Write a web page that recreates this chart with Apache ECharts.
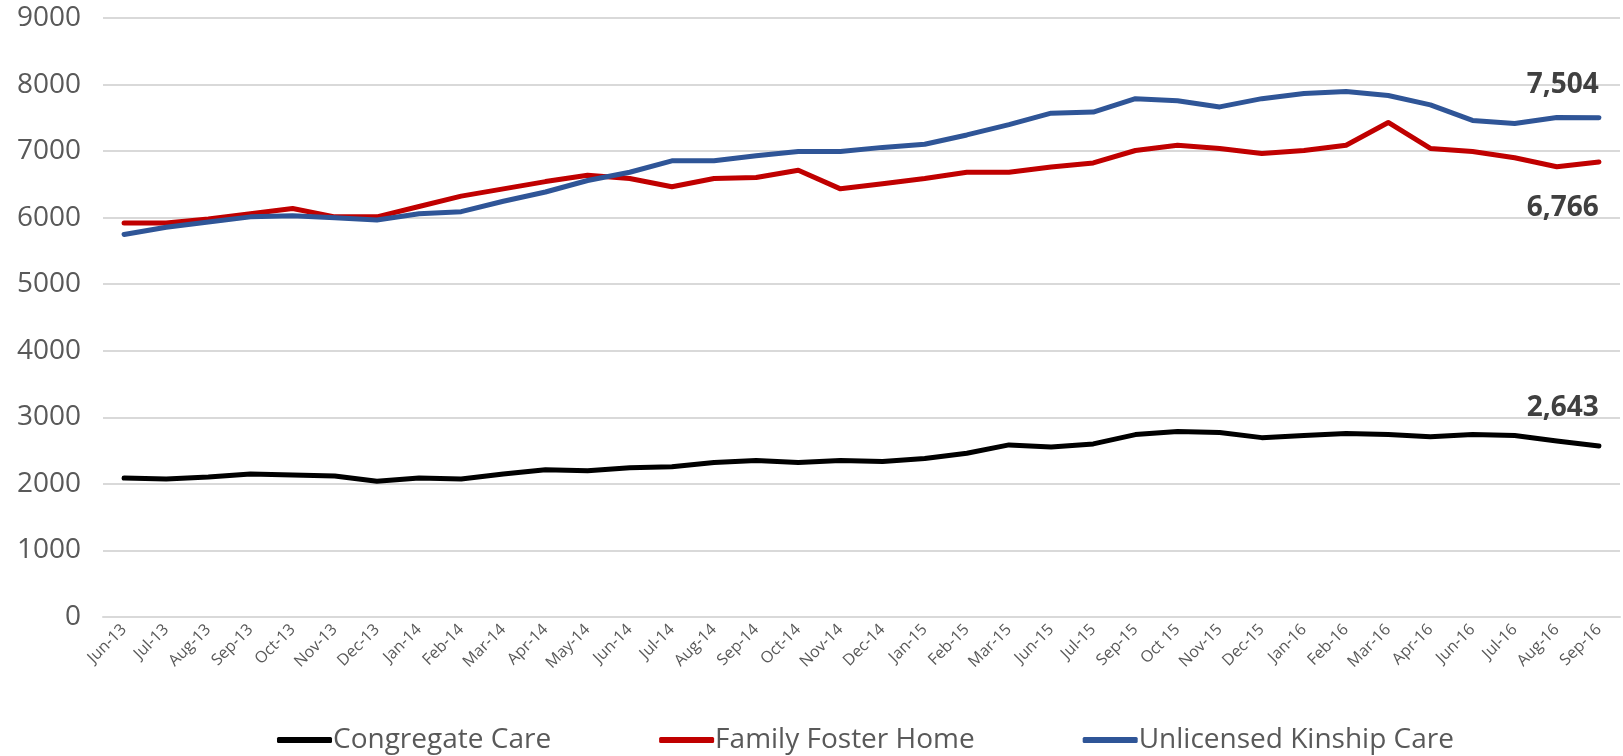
<!DOCTYPE html>
<html>
<head>
<meta charset="utf-8">
<script src="https://cdn.jsdelivr.net/npm/echarts@6/dist/echarts.min.js"></script>
<style>
  html, body { margin: 0; padding: 0; background: #fff; }
  #chart { width: 1623px; height: 756px; }
</style>
</head>
<body>
<div id="chart"></div>
<script>
// months on the x axis
const months = ['Jun-13', 'Jul-13', 'Aug-13', 'Sep-13', 'Oct-13', 'Nov-13', 'Dec-13',
  'Jan-14', 'Feb-14', 'Mar-14', 'Apr-14', 'May-14', 'Jun-14', 'Jul-14', 'Aug-14', 'Sep-14',
  'Oct-14', 'Nov-14', 'Dec-14', 'Jan-15', 'Feb-15', 'Mar-15', 'Jun-15', 'Jul-15', 'Sep-15',
  'Oct 15', 'Nov-15', 'Dec-15', 'Jan-16', 'Feb-16', 'Mar-16', 'Apr-16', 'Jun-16', 'Jul-16',
  'Aug-16', 'Sep-16']

const congregateCare = [2087, 2072, 2103, 2150, 2134, 2118, 2040, 2087, 2072, 2150, 2212, 2196,
  2243, 2259, 2321, 2352, 2321, 2352, 2336, 2383, 2461, 2586, 2555, 2601, 2741, 2788, 2773,
  2695, 2726, 2757, 2741, 2710, 2741, 2726, 2643, 2570]

const familyFosterHome = [5919, 5919, 5981, 6059, 6137, 6012, 6012, 6168, 6324, 6433, 6542, 6636,
  6589, 6464, 6589, 6604, 6713, 6433, 6511, 6589, 6682, 6682, 6760, 6822, 7009, 7087, 7040,
  6963, 7009, 7087, 7430, 7040, 6994, 6900, 6766, 6838]

const unlicensedKinship = [5748, 5857, 5935, 6012, 6028, 5997, 5966, 6059, 6090, 6246, 6386, 6558,
  6682, 6854, 6854, 6931, 6994, 6994, 7056, 7103, 7243, 7399, 7570, 7586, 7788, 7757, 7664,
  7788, 7866, 7897, 7835, 7695, 7461, 7414, 7504, 7500]

// the callout labels sit on this month
const labelMonth = 'Aug-16'

const fontFamily = '"Open Sans", "Noto Sans", sans-serif'

// put a bold value label on one point of a series
const withLabel = (values, position, distance) => values.map((v, i) => {
  if (months[i] !== labelMonth) return v
  return {
    value: v,
    label: {
      show: true,
      position: position,
      distance: distance,
      offset: [6, 0],
      formatter: (p) => p.value.toLocaleString('en-US'),
      fontFamily: fontFamily,
      fontWeight: 'bold',
      fontSize: 28,
      color: '#404040'
    }
  }
})

const makeSeries = (name, color, data) => ({
  name: name,
  type: 'line',
  data: data,
  // symbols are kept (size 0) so the point label can be drawn
  symbol: 'circle',
  symbolSize: 0,
  showSymbol: true,
  lineStyle: { color: color, width: 5, cap: 'round', join: 'round' },
  itemStyle: { color: color },
  emphasis: { disabled: true }
})

const chart = echarts.init(document.getElementById('chart'))

chart.setOption({
  animation: false,
  grid: { left: 103, right: 3, top: 18, bottom: 139, containLabel: false },
  legend: {
    top: 721,
    left: 272,
    icon: 'roundRect',
    itemWidth: 55,
    itemHeight: 6,
    itemGap: 108,
    textStyle: { fontFamily: fontFamily, fontSize: 28, color: '#595959', padding: [0, 0, 0, -4] }
  },
  xAxis: {
    type: 'category',
    data: months,
    boundaryGap: true,
    axisLine: { lineStyle: { color: '#d9d9d9', width: 2 } },
    axisTick: { show: false },
    axisLabel: {
      rotate: 45,
      interval: 0,
      fontFamily: fontFamily,
      fontSize: 16,
      color: '#595959',
      margin: 10
    }
  },
  yAxis: {
    type: 'value',
    min: 0,
    max: 9000,
    interval: 1000,
    axisLine: { show: false },
    axisTick: { show: false },
    splitLine: { lineStyle: { color: '#d9d9d9', width: 2 } },
    axisLabel: {
      formatter: (v) => String(v),
      fontFamily: fontFamily,
      fontSize: 28,
      color: '#595959',
      margin: 22
    }
  },
  series: [
    makeSeries('Congregate Care', '#000000', withLabel(congregateCare, 'top', 19)),
    makeSeries('Family Foster Home', '#c00000', withLabel(familyFosterHome, 'bottom', 27)),
    makeSeries('Unlicensed Kinship Care', '#2f5597', withLabel(unlicensedKinship, 'top', 19))
  ]
})
</script>
</body>
</html>
